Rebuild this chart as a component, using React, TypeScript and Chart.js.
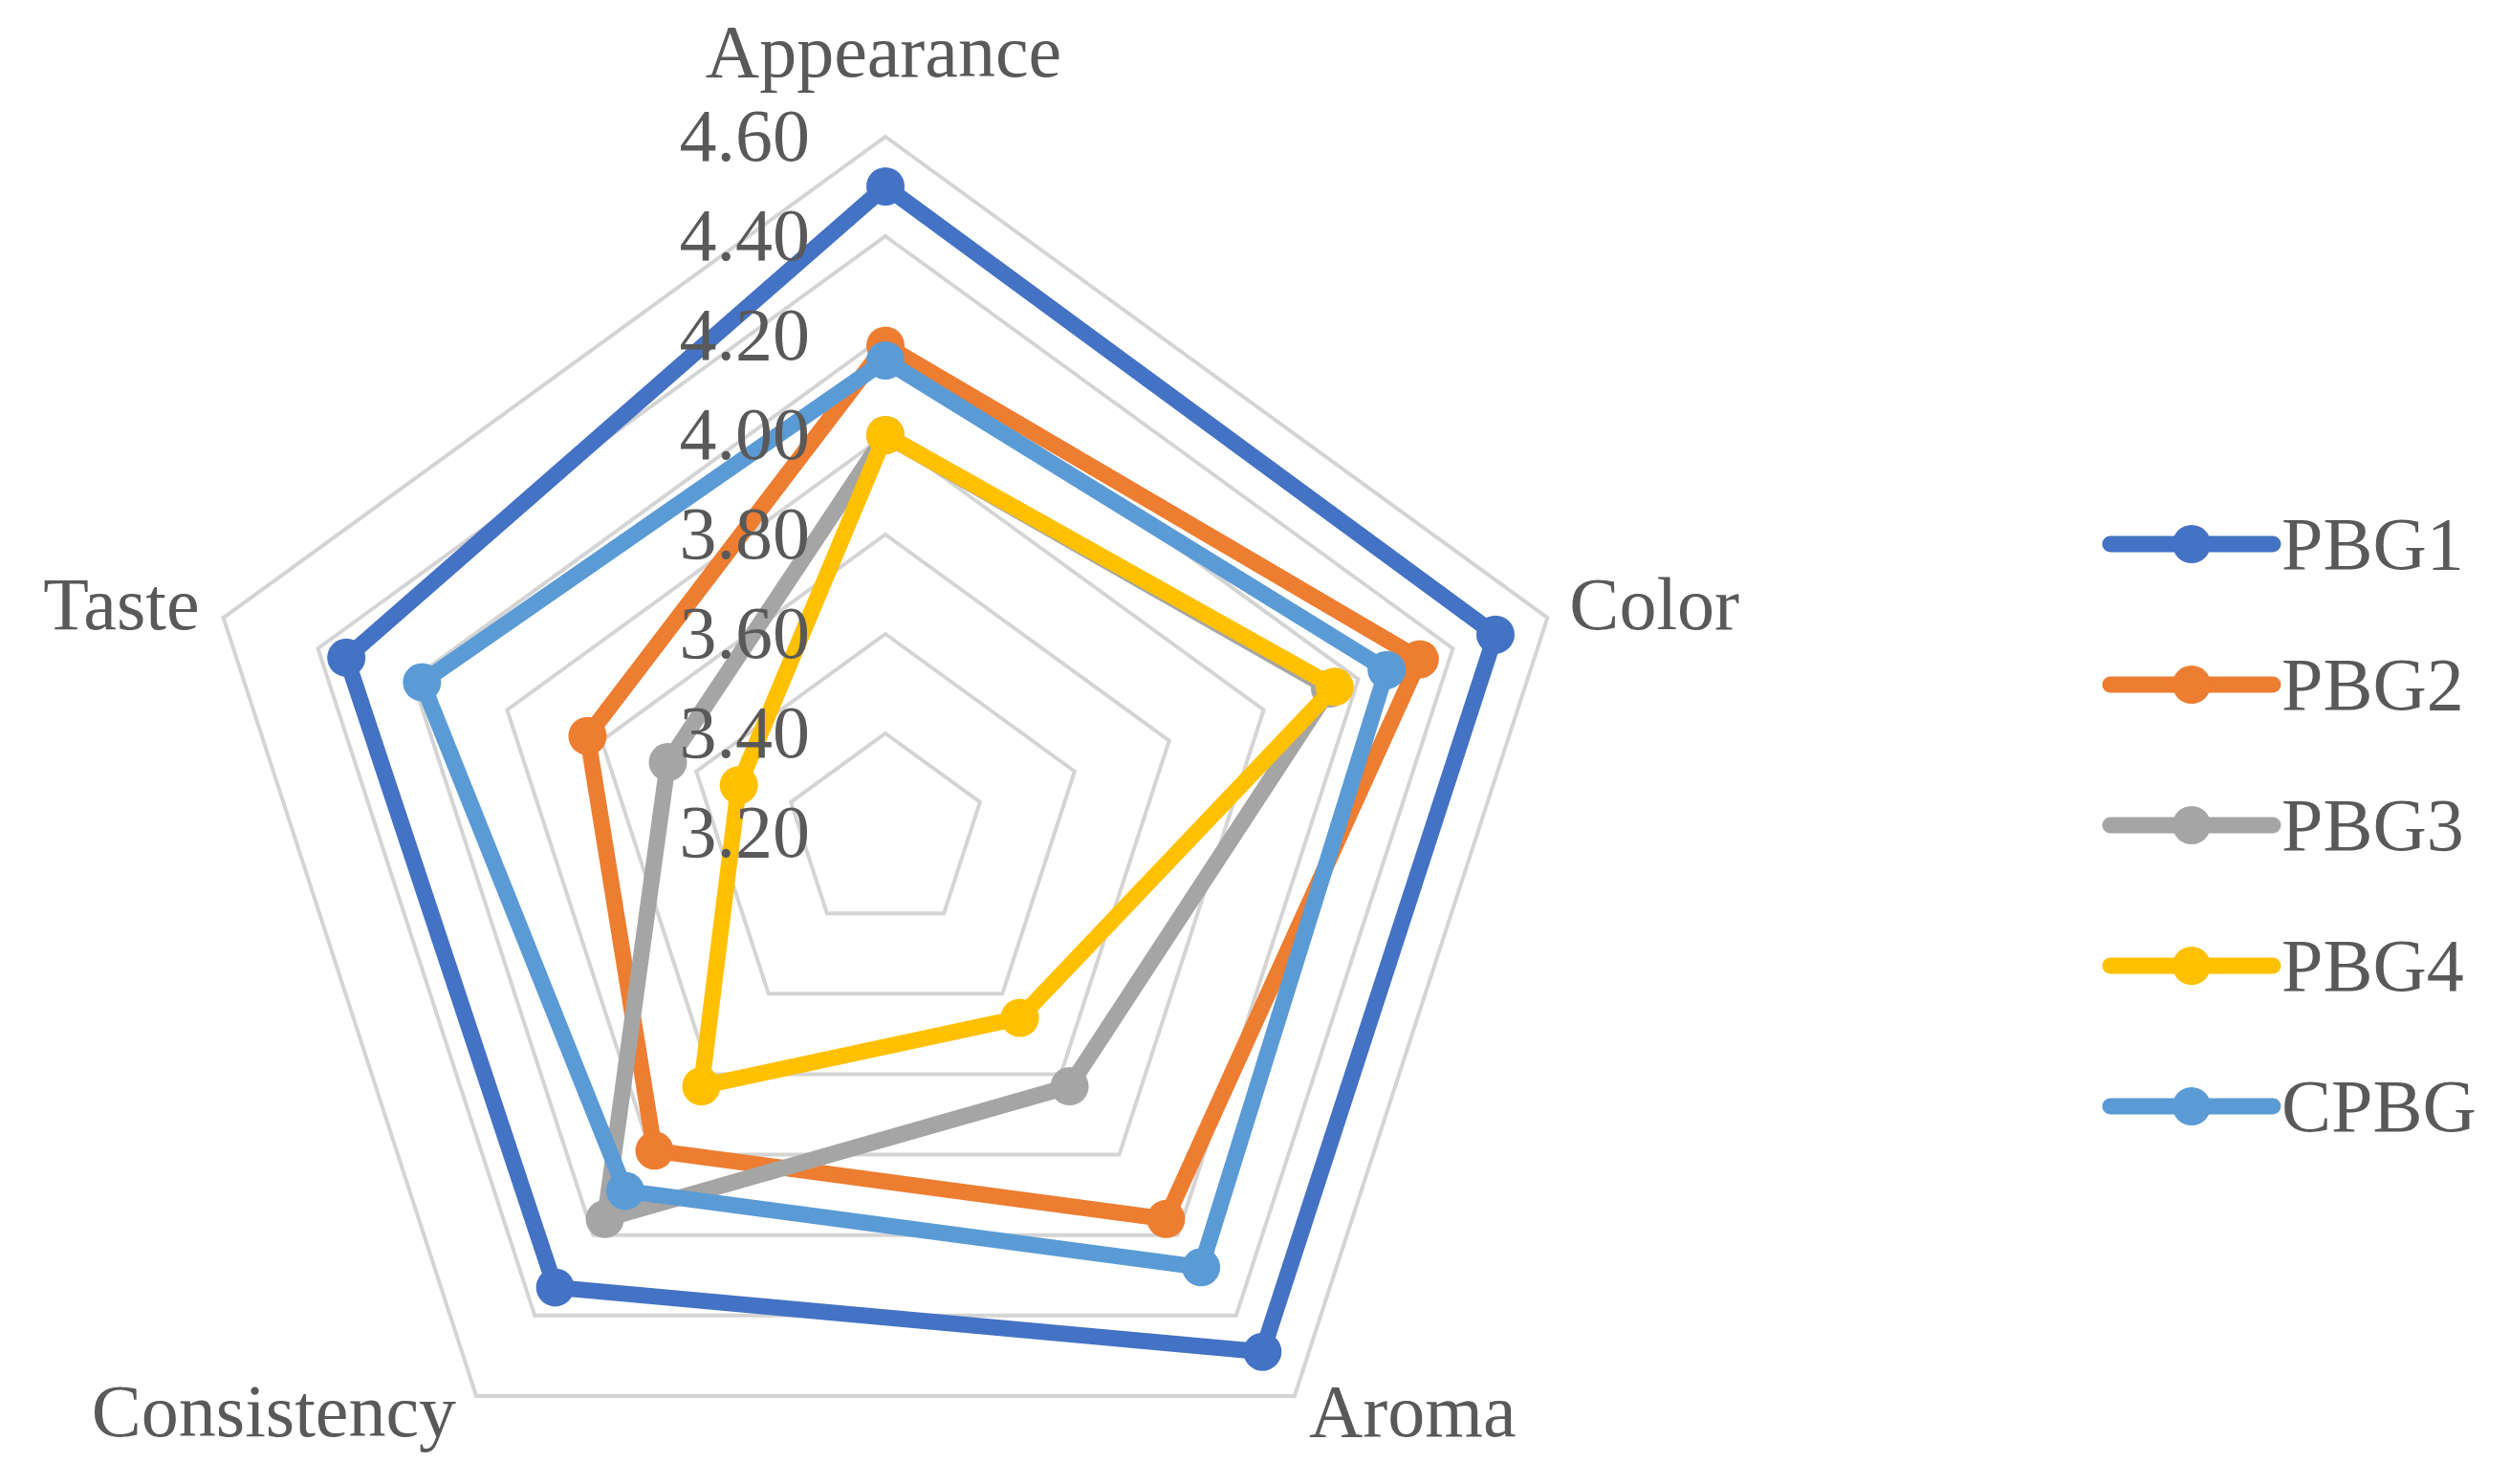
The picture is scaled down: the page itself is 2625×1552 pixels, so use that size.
import React, { useEffect, useRef } from "react";
import { Chart, registerables } from "chart.js";

Chart.register(...registerables);

// ---- data ----
const categories = ["Appearance", "Color", "Aroma", "Consistency", "Taste"];
const seriesNames = ["PBG1", "PBG2", "PBG3", "PBG4", "CPBG"];
const pbg1 = [4.5, 4.49, 4.49, 4.33, 4.34];
const pbg2 = [4.18, 4.33, 4.16, 3.99, 3.83];
const pbg3 = [4.0, 4.14, 3.83, 4.16, 3.66];
const pbg4 = [4.0, 4.15, 3.66, 3.83, 3.51];
const cpbg = [4.15, 4.26, 4.28, 4.09, 4.18];
const tickLabels = ["3.20", "3.40", "3.60", "3.80", "4.00", "4.20", "4.40", "4.60"];
const scaleMin = 3.2;
const scaleMax = 4.6;
const scaleStep = 0.2;

const seriesValues = [pbg1, pbg2, pbg3, pbg4, cpbg];
const colors = ["#4472C4", "#ED7D31", "#A5A5A5", "#FFC000", "#5B9BD5"];

const FONT = "78px 'Liberation Serif', 'Times New Roman', serif";
const TEXT_COLOR = "#595959";
const LINE_W = 17;
const POINT_R = 20;

// label placement relative to each outer vertex
const labelPlacement = [
  { dx: -2, dy: -63, align: "center" },
  { dx: 23, dy: 12, align: "left" },
  { dx: 15, dy: 42, align: "left" },
  { dx: -21, dy: 42, align: "right" },
  { dx: -25, dy: 12, align: "right" },
];

const overlayPlugin = {
  id: "excelOverlay",
  afterDatasetsDraw(chart: any) {
    const ctx = chart.ctx;
    const scale = chart.scales.r;
    ctx.save();
    ctx.font = FONT;
    ctx.fillStyle = TEXT_COLOR;
    ctx.textBaseline = "alphabetic";

    // category labels
    categories.forEach((cat, i) => {
      const p = scale.getPointPosition(i, scale.drawingArea);
      const pl = labelPlacement[i];
      ctx.textAlign = pl.align;
      ctx.fillText(cat, p.x + pl.dx, p.y + pl.dy);
    });

    // tick labels
    ctx.textAlign = "right";
    tickLabels.forEach((t) => {
      const v = parseFloat(t);
      const y = scale.yCenter - scale.getDistanceFromCenterForValue(v);
      ctx.fillText(t, scale.xCenter - 79, y + 25);
    });

    // legend
    const legX0 = 2207;
    const legX1 = 2377;
    const legY0 = 569;
    const legDy = 147;
    seriesNames.forEach((name, i) => {
      const y = legY0 + i * legDy;
      ctx.strokeStyle = colors[i];
      ctx.lineWidth = LINE_W;
      ctx.lineCap = "round";
      ctx.beginPath();
      ctx.moveTo(legX0, y);
      ctx.lineTo(legX1, y);
      ctx.stroke();
      ctx.fillStyle = colors[i];
      ctx.beginPath();
      ctx.arc((legX0 + legX1) / 2, y, POINT_R, 0, Math.PI * 2);
      ctx.fill();
      ctx.fillStyle = TEXT_COLOR;
      ctx.textAlign = "left";
      ctx.fillText(name, 2386, y + 26);
    });
    ctx.restore();
  },
};

export default function App() {
  const canvasRef = useRef<HTMLCanvasElement | null>(null);

  useEffect(() => {
    const canvas = canvasRef.current;
    if (!canvas) return;
    const W = 2625;
    const H = 1800;
    const cx = 926;
    const cy = 871;
    const R = 728;
    const chart = new Chart(canvas, {
      type: "radar",
      data: {
        labels: categories,
        datasets: seriesNames.map((name, i) => ({
          label: name,
          data: seriesValues[i],
          borderColor: colors[i],
          backgroundColor: colors[i],
          pointBackgroundColor: colors[i],
          pointBorderColor: colors[i],
          pointBorderWidth: 0,
          pointRadius: POINT_R,
          pointHoverRadius: POINT_R,
          borderWidth: LINE_W,
          borderJoinStyle: "round",
          fill: false,
          tension: 0,
          order: seriesNames.length - i,
        })),
      },
      options: {
        responsive: false,
        maintainAspectRatio: false,
        devicePixelRatio: 1,
        animation: false,
        events: [],
        layout: {
          padding: {
            left: cx - R,
            right: W - (cx + R),
            top: cy - R,
            bottom: H - (cy + R),
          },
        },
        plugins: {
          legend: { display: false },
          tooltip: { enabled: false },
          title: { display: false },
        },
        scales: {
          r: {
            min: scaleMin,
            max: scaleMax,
            beginAtZero: false,
            ticks: { display: false, stepSize: scaleStep },
            pointLabels: { display: false },
            angleLines: { display: false },
            grid: { color: "#d4d4d4", lineWidth: 4 },
          },
        },
      },
      plugins: [overlayPlugin],
    } as any);
    return () => chart.destroy();
  }, []);

  return (
    <div
      style={{
        position: "fixed",
        left: 0,
        top: 0,
        width: 2625,
        height: 1552,
        overflow: "hidden",
        background: "#ffffff",
      }}
    >
      <canvas ref={canvasRef} width={2625} height={1800} style={{ display: "block" }} />
    </div>
  );
}
